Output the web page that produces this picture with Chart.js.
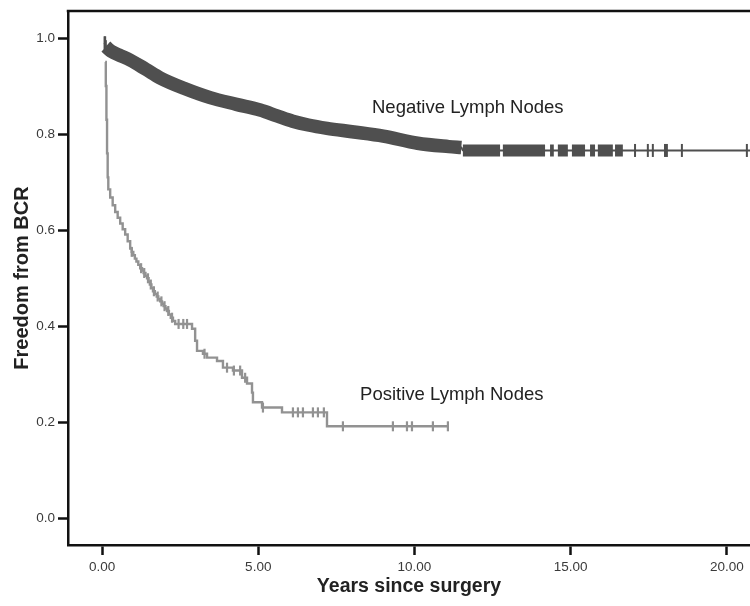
<!DOCTYPE html>
<html><head><meta charset="utf-8">
<script src="https://cdn.jsdelivr.net/npm/chart.js@4/dist/chart.umd.min.js"></script>
<style>html,body{margin:0;padding:0;background:#fff;overflow:hidden;}canvas{display:block;}</style>
</head><body><canvas id="c" width="750" height="606" style="width:750px;height:606px"></canvas>
<script>
// ---- data ----
const xTickValues = [0, 5, 10, 15, 20];
const yTickValues = [0, 0.2, 0.4, 0.6, 0.8, 1.0];

// Negative lymph nodes: survival curve (years, freedom from BCR)
const negTimes  = [0.08, 0.12, 0.30, 0.60, 0.90, 1.40, 1.86, 2.60, 3.46, 4.30, 5.06, 5.60, 6.10, 6.60, 7.20, 8.00, 9.00, 10.10, 11.10, 11.50, 11.55, 20.74];
const negValues = [0.990, 0.982, 0.972, 0.963, 0.954, 0.935, 0.917, 0.896, 0.876, 0.862, 0.850, 0.838, 0.827, 0.819, 0.812, 0.805, 0.796, 0.781, 0.774, 0.772, 0.766, 0.766];
// dense censoring (solid band) along the curve, and later censor blocks / single marks
const negDenseRange = [0.12, 11.50];
const negCensorBlocks = [[11.55, 12.74], [12.83, 14.18], [14.34, 14.46], [14.59, 14.91], [15.04, 15.46], [15.62, 15.78], [15.87, 16.35], [16.42, 16.67]];
const negCensorTimes = [0.08, 0.10, 0.12, 17.06, 17.47, 17.63, 18.02, 18.08, 18.56, 20.64];

// Positive lymph nodes: Kaplan-Meier steps (time of drop, value after drop)
const posTimes  = [0.10, 0.12, 0.14, 0.16, 0.18, 0.20, 0.26, 0.34, 0.42, 0.50, 0.58, 0.66, 0.74, 0.82, 0.90, 0.95, 1.00, 1.05, 1.10, 1.16, 1.22, 1.28, 1.33, 1.39, 1.44, 1.49, 1.53, 1.58, 1.63, 1.69, 1.75, 1.80, 1.86, 1.92, 1.97, 2.03, 2.08, 2.14, 2.20, 2.27, 2.34, 2.88, 2.98, 3.04, 3.23, 3.36, 3.68, 3.87, 4.19, 4.48, 4.64, 4.80, 4.83, 5.12, 5.76, 7.20, 11.07];
const posValues = [0.950, 0.900, 0.830, 0.760, 0.710, 0.685, 0.668, 0.652, 0.638, 0.626, 0.614, 0.602, 0.591, 0.577, 0.562, 0.555, 0.548, 0.541, 0.535, 0.528, 0.521, 0.516, 0.511, 0.505, 0.500, 0.493, 0.487, 0.480, 0.473, 0.467, 0.462, 0.457, 0.452, 0.447, 0.442, 0.437, 0.432, 0.425, 0.418, 0.411, 0.405, 0.395, 0.370, 0.349, 0.343, 0.335, 0.328, 0.314, 0.308, 0.293, 0.281, 0.262, 0.242, 0.231, 0.221, 0.192, 0.192];
const posCensorTimes = [0.95, 1.25, 1.35, 1.47, 1.56, 1.66, 1.78, 1.90, 2.00, 2.12, 2.24, 2.45, 2.60, 2.72, 3.28, 4.00, 4.22, 4.42, 4.58, 5.15, 6.11, 6.27, 6.43, 6.75, 6.91, 7.10, 7.71, 9.31, 9.76, 9.92, 10.59, 11.07];

const curveLabels = ['Negative Lymph Nodes', 'Positive Lymph Nodes'];
const xTitle = 'Years since surgery';
const yTitle = 'Freedom from BCR';

// ---- helpers ----
function stepValue(times, values, t) {
  let v = values[0];
  for (let i = 0; i < times.length; i++) { if (times[i] <= t + 1e-9) v = values[i]; else break; }
  return v;
}
const negCurve = negTimes.map((t, i) => ({x: t, y: negValues[i]}));
const negBand = negCurve.filter(p => p.x >= negDenseRange[0] && p.x <= negDenseRange[1]);
const negBlocks = [];
negCensorBlocks.forEach(([a, b]) => {
  const v = stepValue(negTimes, negValues, a);
  negBlocks.push({x: a, y: v}, {x: b, y: v}, {x: b, y: null});
});
const negMarks = negCensorTimes.map(t => ({x: t, y: stepValue(negTimes, negValues, t)}));
const posCurve = posTimes.map((t, i) => ({x: t, y: posValues[i]}));
const posMarks = posCensorTimes.map(t => ({x: t, y: stepValue(posTimes, posValues, t)}));

// label anchor positions in data units (left edge, vertical middle)
const labelAnchors = [{x: 8.64, y: 0.855}, {x: 8.26, y: 0.258}];

const NEG = '#4f4f4f', POS = '#929292', AXIS = '#111';
const FONT = '"Liberation Sans", Arial, sans-serif';

const framePlugin = {
  id: 'frame',
  afterDraw(chart) {
    const {ctx, chartArea: a, scales: {x, y}} = chart;
    ctx.save();
    ctx.strokeStyle = AXIS; ctx.lineWidth = 2.5;
    ctx.beginPath(); ctx.moveTo(a.left - 1.25, a.top); ctx.lineTo(a.right, a.top); ctx.stroke();
    ctx.fillStyle = '#222';
    ctx.font = '18.5px ' + FONT;
    ctx.textAlign = 'left'; ctx.textBaseline = 'middle';
    curveLabels.forEach((txt, i) => ctx.fillText(txt, x.getPixelForValue(labelAnchors[i].x), y.getPixelForValue(labelAnchors[i].y)));
    ctx.restore();
  }
};

new Chart(document.getElementById('c'), {
  type: 'line',
  data: {
    datasets: [
      {data: negCurve, borderColor: NEG, borderWidth: 2, pointRadius: 0, cubicInterpolationMode: 'monotone', order: 5},
      {data: negBand, borderColor: NEG, borderWidth: 13.5, pointRadius: 0, cubicInterpolationMode: 'monotone', borderCapStyle: 'butt', order: 4},
      {data: negBlocks, borderColor: NEG, borderWidth: 12, pointRadius: 0, spanGaps: false, borderCapStyle: 'butt', order: 4},
      {type: 'scatter', data: negMarks, showLine: false, pointStyle: 'line', rotation: 90, pointRadius: 6.5, borderWidth: 2, borderColor: NEG, backgroundColor: NEG, order: 3},
      {data: posCurve, borderColor: POS, borderWidth: 2.4, pointRadius: 0, stepped: true, order: 2},
      {type: 'scatter', data: posMarks, showLine: false, pointStyle: 'line', rotation: 90, pointRadius: 5, borderWidth: 2.2, borderColor: POS, backgroundColor: POS, order: 1}
    ]
  },
  options: {
    responsive: false, maintainAspectRatio: false, animation: false, devicePixelRatio: 1,
    layout: {autoPadding: false, padding: {top: 8, right: 0, left: 0, bottom: 0}},
    plugins: {legend: {display: false}, tooltip: {enabled: false}},
    scales: {
      x: {
        type: 'linear', min: -1.09, max: 20.74,
        afterBuildTicks: s => { s.ticks = xTickValues.map(v => ({value: v})); },
        afterFit: s => { s.height = 61; },
        grid: {drawOnChartArea: false, drawTicks: true, tickLength: 10, tickWidth: 2.5, tickColor: AXIS},
        border: {color: AXIS, width: 2.5},
        ticks: {padding: 4, color: '#3a3a3a', font: {family: FONT, size: 13.5}, callback: v => Number(v).toFixed(2), maxRotation: 0, autoSkip: false},
        title: {display: true, text: xTitle, color: '#222', font: {family: FONT, size: 19.5, weight: 'bold'}, padding: {top: 0, bottom: 8}}
      },
      y: {
        type: 'linear', min: -0.055, max: 1.056,
        afterBuildTicks: s => { s.ticks = yTickValues.map(v => ({value: v})); },
        afterFit: s => { s.width = 68; },
        grid: {drawOnChartArea: false, drawTicks: true, tickLength: 10, tickWidth: 2.5, tickColor: AXIS},
        border: {color: AXIS, width: 2.5},
        ticks: {padding: 3, color: '#3a3a3a', font: {family: FONT, size: 13.5}, callback: v => Number(v).toFixed(1), autoSkip: false},
        title: {display: true, text: yTitle, color: '#222', font: {family: FONT, size: 20, weight: 'bold'}, padding: {top: 10, bottom: 0}}
      }
    }
  },
  plugins: [framePlugin]
});
</script></body></html>
